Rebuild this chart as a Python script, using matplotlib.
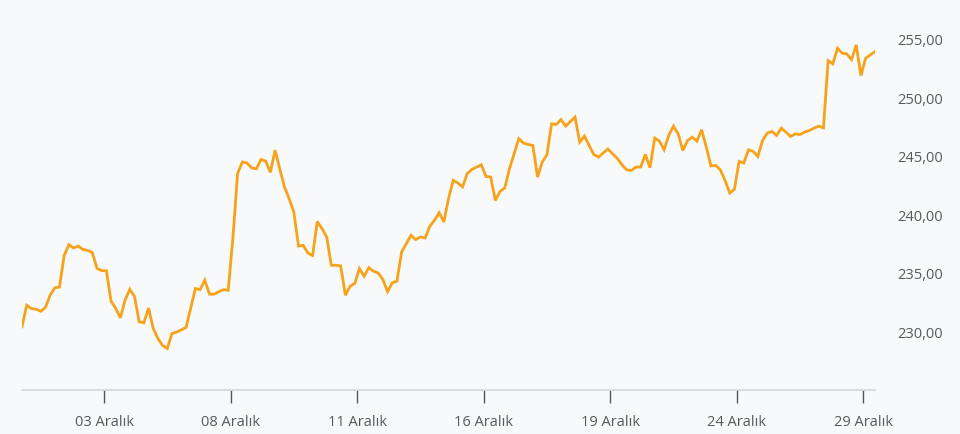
import matplotlib
matplotlib.use("Agg")
import matplotlib.pyplot as plt
from matplotlib.ticker import FuncFormatter

# Price series (9 points per trading day)
prices = [
    230.40, 232.24, 231.96, 231.90, 231.73, 232.05, 233.10, 233.73, 233.80, 236.50,
    237.42, 237.14, 237.30, 237.00, 236.93, 236.74, 235.40, 235.20, 235.20, 232.60,
    231.96, 231.17, 232.70, 233.60, 233.00, 230.83, 230.74, 232.00, 230.26, 229.40,
    228.80, 228.55, 229.83, 229.95, 230.15, 230.34, 232.00, 233.67, 233.58, 234.38,
    233.19, 233.19, 233.40, 233.58, 233.52, 238.00, 243.50, 244.48, 244.40, 243.97,
    243.90, 244.70, 244.56, 243.60, 245.50, 243.90, 242.35, 241.35, 240.20, 237.30,
    237.36, 236.70, 236.50, 239.40, 238.80, 238.08, 235.66, 235.66, 235.60, 233.10,
    233.87, 234.10, 235.38, 234.72, 235.46, 235.15, 235.00, 234.44, 233.40, 234.16,
    234.30, 236.80, 237.50, 238.22, 237.85, 238.08, 237.99, 238.98, 239.50, 240.15,
    239.36, 241.35, 242.91, 242.69, 242.35, 243.50, 243.85, 244.05, 244.25, 243.25,
    243.20, 241.20, 241.97, 242.26, 243.90, 245.19, 246.47, 246.10, 245.98, 245.90,
    243.20, 244.48, 245.10, 247.75, 247.69, 248.11, 247.55, 247.94, 248.32, 246.18,
    246.70, 245.90, 245.13, 244.90, 245.25, 245.60, 245.19, 244.80, 244.25, 243.82,
    243.76, 244.05, 244.05, 245.13, 244.00, 246.53, 246.27, 245.53, 246.75, 247.55,
    246.89, 245.47, 246.32, 246.61, 246.27, 247.24, 245.76, 244.14, 244.20, 243.82,
    242.91, 241.83, 242.14, 244.53, 244.39, 245.53, 245.39, 244.96, 246.32, 246.95,
    247.10, 246.75, 247.38, 247.04, 246.66, 246.89, 246.83, 247.04, 247.18, 247.38,
    247.55, 247.40, 253.15, 252.87, 254.20, 253.78, 253.72, 253.23, 254.49, 251.87,
    253.35, 253.63, 253.92,
]
tick_labels = ["03 Aralık", "08 Aralık", "11 Aralık", "16 Aralık",
               "19 Aralık", "24 Aralık", "29 Aralık"]
tick_index = [17.5, 44.5, 71.5, 98.5, 125.5, 152.5, 179.5]
y_ticks = [230, 235, 240, 245, 250, 255]

plt.rcParams['font.family'] = ['Open Sans', 'DejaVu Sans']

bg = "#f8f9fb"
fig = plt.figure(figsize=(9.6, 4.35), dpi=100, facecolor=bg)
ax = fig.add_axes([22/960, (435-391)/435, (875-22)/960, 391/435])
ax.set_facecolor(bg)

x = list(range(len(prices)))
ax.plot(x, prices, color="#f7a21b", linewidth=2.0, solid_joinstyle="miter")

ax.set_xlim(0, len(prices) - 1)
ax.set_ylim(225, 255 + 40/11.72)

for s in ["top", "left", "right"]:
    ax.spines[s].set_visible(False)
ax.spines["bottom"].set_color("#d6d8dc")
ax.spines["bottom"].set_linewidth(1.3)

ax.set_xticks(tick_index)
ax.set_xticklabels(tick_labels)
ax.tick_params(axis="x", length=9, width=1, color="#555555", pad=8,
               labelsize=10.5, labelcolor="#555a60")

ax.yaxis.tick_right()
ax.set_yticks(y_ticks)
ax.yaxis.set_major_formatter(FuncFormatter(lambda v, p: f"{v:.2f}".replace(".", ",")))
ax.tick_params(axis="y", length=0, pad=16, labelsize=10.5, labelcolor="#555a60")

fig.savefig("out.png", dpi=100, facecolor=bg)
